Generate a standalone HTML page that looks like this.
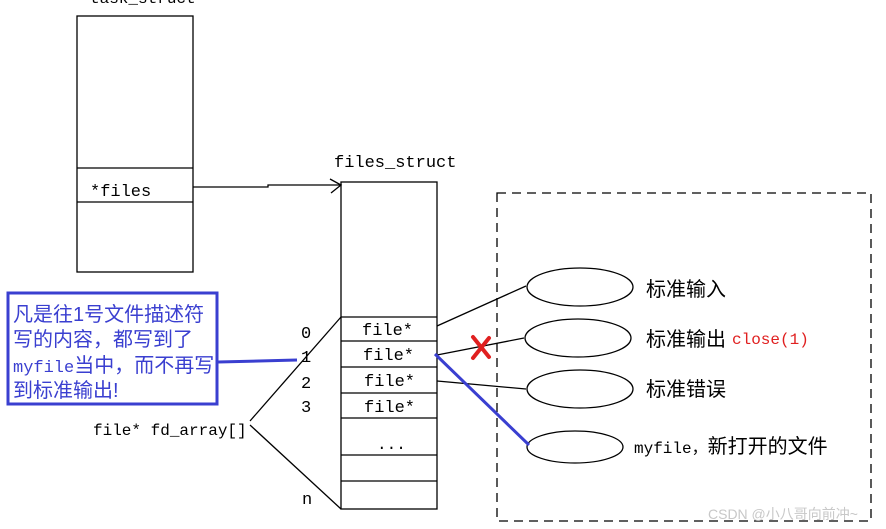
<!DOCTYPE html>
<html><head><meta charset="utf-8"><style>
body{margin:0;background:#fff;}
svg{display:block;}
text{font-family:"Liberation Mono","Noto Sans CJK SC",monospace;fill:#000;}
.c{font-family:"Liberation Sans","Noto Sans CJK SC",sans-serif;}
</style></head><body>
<svg width="886" height="529" viewBox="0 0 886 529" xmlns="http://www.w3.org/2000/svg">
<g fill="none" stroke="#000" stroke-width="1.3">
<rect x="77" y="16" width="116" height="256"/>
<line x1="77" y1="168" x2="193" y2="168"/>
<line x1="77" y1="202" x2="193" y2="202"/>
<rect x="341" y="182" width="96" height="327"/>
<line x1="341" y1="317" x2="437" y2="317"/>
<line x1="341" y1="341" x2="437" y2="341"/>
<line x1="341" y1="367" x2="437" y2="367"/>
<line x1="341" y1="393" x2="437" y2="393"/>
<line x1="341" y1="418" x2="437" y2="418"/>
<line x1="341" y1="455" x2="437" y2="455"/>
<line x1="341" y1="481" x2="437" y2="481"/>
<polyline points="193,187 268,187 268,185 341,185"/>
<polyline points="330,179 341,185 331,193"/>
<rect x="497" y="193" width="374" height="328" stroke-dasharray="9,6"/>
<ellipse cx="580" cy="287" rx="53" ry="19"/>
<ellipse cx="578" cy="338" rx="53" ry="19"/>
<ellipse cx="580" cy="389" rx="53" ry="19"/>
<ellipse cx="575" cy="447" rx="48" ry="16"/>
<line x1="437" y1="326" x2="526" y2="286"/>
<line x1="437" y1="355" x2="524" y2="338"/>
<line x1="437" y1="381" x2="526" y2="389"/>
<line x1="250" y1="421" x2="341" y2="317"/>
<line x1="250" y1="425" x2="341" y2="509"/>
</g>
<line x1="435" y1="354" x2="529" y2="445" stroke="#3a3fd0" stroke-width="3"/>
<line x1="218" y1="362" x2="297" y2="360" stroke="#3a3fd0" stroke-width="3"/>
<rect x="8" y="293" width="209" height="111" fill="none" stroke="#3a3fd0" stroke-width="3"/>
<g stroke="#e02020" stroke-width="4" stroke-linecap="round">
<line x1="473" y1="337" x2="489" y2="357"/><line x1="489" y1="338" x2="473" y2="358"/>
</g>
<text x="90" y="3" style="font-size:16px">task_struct</text>
<text x="90" y="196" style="font-size:17px">*files</text>
<text x="334" y="167" style="font-size:17px">files_struct</text>
<text x="362" y="335" style="font-size:17px">file*</text>
<text x="363" y="360" style="font-size:17px">file*</text>
<text x="364" y="386" style="font-size:17px">file*</text>
<text x="364" y="412" style="font-size:17px">file*</text>
<text x="377" y="449" style="font-size:16px">...</text>
<text x="301" y="338" style="font-size:17px">0</text>
<text x="301" y="362" style="font-size:17px">1</text>
<text x="301" y="388" style="font-size:17px">2</text>
<text x="301" y="412" style="font-size:17px">3</text>
<text x="302" y="504" style="font-size:17px">n</text>
<text x="93" y="435" style="font-size:16px">file* fd_array[]</text>
<text class="c" x="646" y="296" style="font-size:20px">标准输入</text>
<text class="c" x="646" y="346" style="font-size:20px">标准输出</text>
<text x="732" y="344" style="fill:#e02020;font-size:16px">close(1)</text>
<text class="c" x="646" y="396" style="font-size:20px">标准错误</text>
<text x="634" y="453" style="font-size:16px">myfile，<tspan style="font-family:'Liberation Sans','Noto Sans CJK SC',sans-serif;font-size:20px">新打开的文件</tspan></text>
<text class="c" x="13" y="321" style="font-size:20px;fill:#3a3fd0">凡是往1号文件描述符</text>
<text class="c" x="13" y="346" style="font-size:20px;fill:#3a3fd0">写的内容，都写到了</text>
<text class="c" x="13" y="372" style="font-size:20px;fill:#3a3fd0"><tspan style="font-family:'Liberation Mono',monospace;font-size:17px">myfile</tspan>当中，而不再写</text>
<text class="c" x="13" y="397" style="font-size:20px;fill:#3a3fd0">到标准输出!</text>
<text class="c" x="708" y="519" style="font-size:14px;fill:#c8c8c8">CSDN @小八哥向前冲~</text>
</svg>
</body></html>
